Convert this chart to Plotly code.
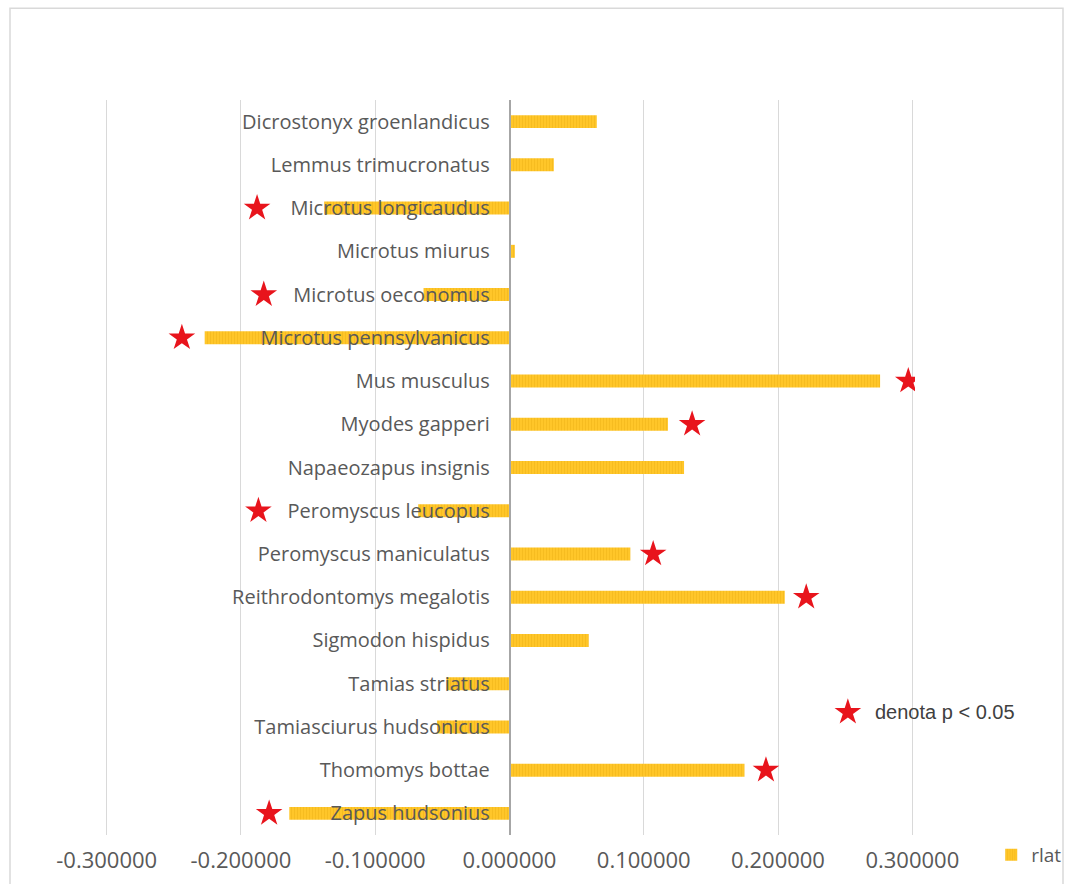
import plotly.graph_objects as go

species = [
    "Dicrostonyx groenlandicus", "Lemmus trimucronatus", "Microtus longicaudus",
    "Microtus miurus", "Microtus oeconomus", "Microtus pennsylvanicus",
    "Mus musculus", "Myodes gapperi", "Napaeozapus insignis",
    "Peromyscus leucopus", "Peromyscus maniculatus", "Reithrodontomys megalotis",
    "Sigmodon hispidus", "Tamias striatus", "Tamiasciurus hudsonicus",
    "Thomomys bottae", "Zapus hudsonius",
]
rlat = [0.065, 0.033, -0.138, 0.004, -0.064, -0.227, 0.276, 0.118, 0.130,
        -0.068, 0.090, 0.205, 0.059, -0.047, -0.054, 0.175, -0.164]
# x position of significance stars (None = not significant)
star_x = [None, None, -0.188, None, -0.183, -0.244, 0.297, 0.136, None,
          -0.187, 0.107, 0.221, None, None, None, 0.191, -0.179]
tick_vals = [-0.3, -0.2, -0.1, 0.0, 0.1, 0.2, 0.3]
tick_text = ["-0.300000", "-0.200000", "-0.100000", "0.000000", "0.100000", "0.200000", "0.300000"]
note_text = "denota p < 0.05"
note_x = 0.252
note_y = 0.167

BAR = "#FFC629"
STAR = "#E8141C"
TXT = "#595959"
FONT = "Open Sans, Lato, sans-serif"

fig = go.Figure()
fig.add_trace(go.Bar(
    y=species, x=rlat, orientation="h", name="rlat",
    marker=dict(color=BAR, line=dict(width=0),
                pattern=dict(shape="|", fgcolor="#EFB419", fgopacity=0.55, size=3, solidity=0.35)),
    showlegend=True,
))
sx = [v for v in star_x if v is not None]
sy = [s for s, v in zip(species, star_x) if v is not None]
fig.add_trace(go.Scatter(
    x=sx, y=sy, mode="markers", showlegend=False,
    marker=dict(symbol="star", size=20, color=STAR, line=dict(width=0)),
))
fig.add_trace(go.Scatter(
    x=[note_x], y=[note_y], yaxis="y2", mode="markers", showlegend=False,
    marker=dict(symbol="star", size=20, color=STAR, line=dict(width=0)),
))
fig.add_annotation(x=note_x, y=note_y, xref="x", yref="y2", text=note_text,
                   showarrow=False, xanchor="left", xshift=25,
                   font=dict(family="Liberation Sans, Arial", size=20, color="#404040"))

n = len(species)
fig.update_layout(
    width=1068, height=884,
    margin=dict(l=104, r=153, t=100, b=49, autoexpand=False),
    paper_bgcolor="white", plot_bgcolor="white",
    bargap=0.7,
    font=dict(family=FONT, color=TXT),
    xaxis=dict(range=[-0.302, 0.302], tickvals=tick_vals, ticktext=tick_text,
               showgrid=True, gridcolor="#D9D9D9", gridwidth=1, zeroline=False,
               showline=False, ticks="", tickfont=dict(size=22, color=TXT),
               ticklabelstandoff=10, automargin=False),
    yaxis=dict(categoryorder="array", categoryarray=species, range=[n - 0.5, -0.5],
               anchor="free", position=0.5, showline=True, linecolor="#A6A6A6",
               linewidth=1.5, showgrid=False, ticks="", ticklabelstandoff=15,
               tickfont=dict(size=20, color=TXT), automargin=False),
    yaxis2=dict(overlaying="y", range=[0, 1], visible=False),
    legend=dict(x=1.094, y=-0.027, xanchor="left", yanchor="middle",
                font=dict(size=19, color=TXT), bgcolor="rgba(0,0,0,0)",
                itemwidth=30),
)
fig.add_shape(type="rect", xref="paper", yref="paper",
              x0=-0.1159, x1=1.1825, y0=-0.09, y1=1.125,
              line=dict(color="#D9D9D9", width=1.5), fillcolor="rgba(0,0,0,0)", layer="below")

fig.write_html(
    "out.html",
    config={"displayModeBar": False},
    post_script="document.body.style.margin='0';document.body.style.overflow='hidden';"
                "document.documentElement.style.overflow='hidden';",
)
